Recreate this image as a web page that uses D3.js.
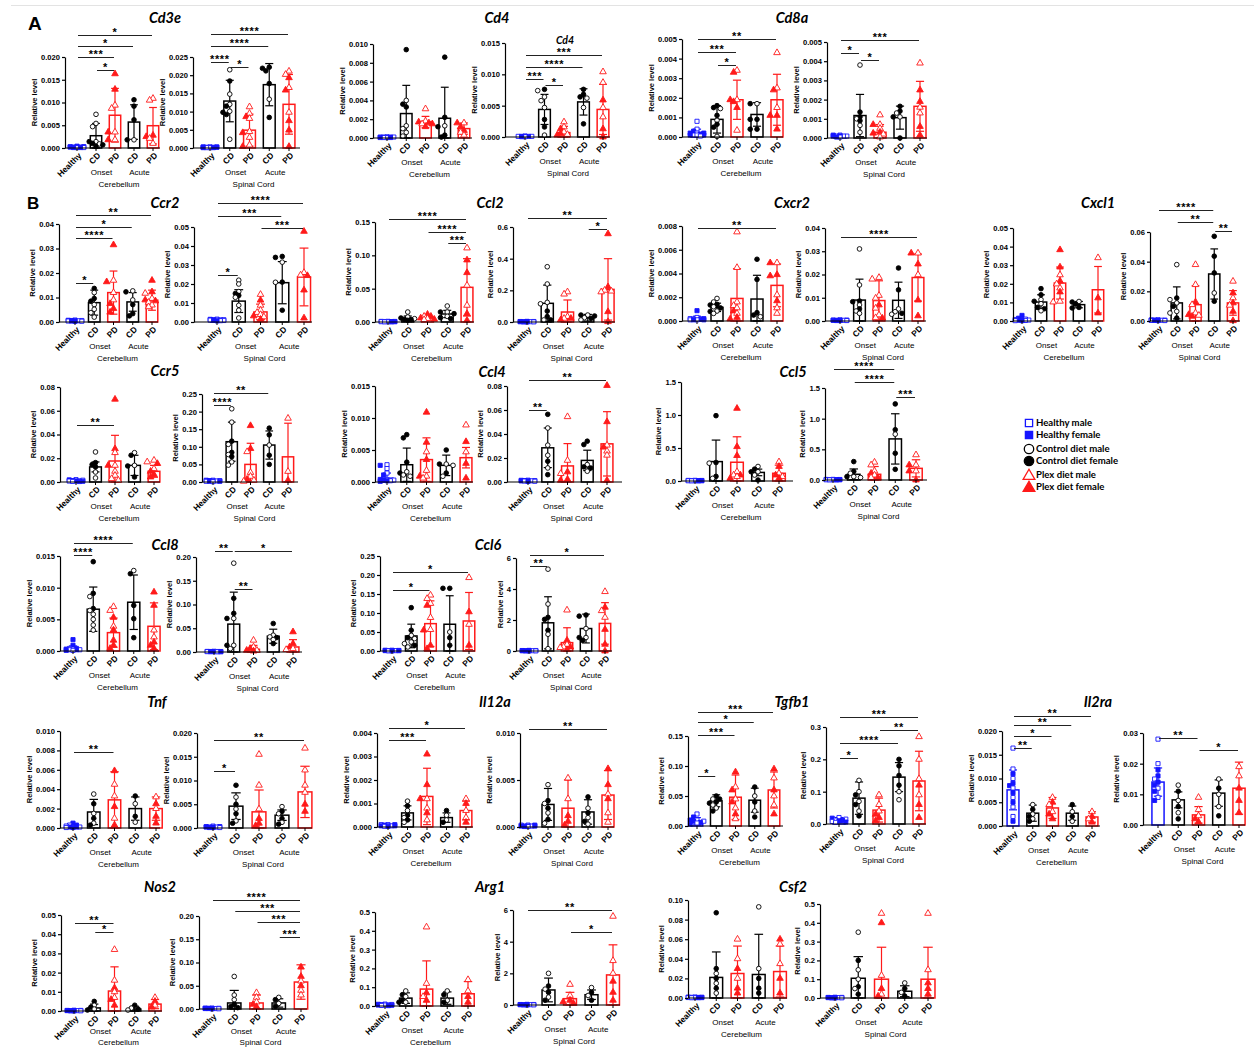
<!DOCTYPE html>
<html>
<head>
<meta charset="utf-8">
<script src="https://cdn.jsdelivr.net/npm/d3@7"></script>
<style>
  body { margin: 0; background: #fff; }
  svg { display: block; font-family: 'Liberation Sans', Arial, sans-serif; }
  .yaxis text { font-size: 7.6px; font-weight: bold; fill: #000; }
  .yaxis path, .yaxis line { stroke: #000; stroke-width: 1.2; }
  .ylab { font-size: 7.5px; font-weight: bold; }
  .xlab { font-size: 8.4px; font-weight: bold; }
  .stage, .region { font-size: 8px; }
  .gene { font-family: Lato, 'Liberation Sans', sans-serif; font-size: 14.5px; font-weight: bold; font-style: italic; }
  .sig { font-size: 11px; font-weight: bold; letter-spacing: 0.6px; }
  .legend { font-family: Lato, 'Liberation Sans', sans-serif; font-size: 9.6px; font-weight: bold; }
</style>
</head>
<body>
<svg width="1254" height="1047"></svg>
<script>
'use strict';
// groups along the x axis of every panel
const groups = ['Healthy', 'CD', 'PD', 'CD', 'PD'];
const stages = ['Onset', 'Acute'];
const tissues = ['Cerebellum', 'Spinal Cord'];
const genes = ['Cd3e', 'Cd4', 'Cd8a', 'Ccr2', 'Ccl2', 'Cxcr2', 'Cxcl1', 'Ccr5', 'Ccl4', 'Ccl5',
  'Ccl8', 'Ccl6', 'Tnf', 'Il12a', 'Tgfb1', 'Il2ra', 'Nos2', 'Arg1', 'Csf2'];
const legendLabels = ['Healthy male', 'Healthy female', 'Control diet male', 'Control diet female',
  'Plex diet male', 'Plex diet female'];

// panel i: gene floor(i/2), tissue i%2
const yMax = [0.020, 0.025, 0.010, 0.015, 0.005, 0.005, 0.04, 0.05, 0.15, 0.6, 0.008, 0.04, 0.05, 0.06,
  0.08, 0.25, 0.015, 0.08, 1.5, 1.5, 0.015, 0.20, 0.25, 6, 0.010, 0.020, 0.004, 0.010, 0.15, 0.3,
  0.020, 0.03, 0.05, 0.20, 0.5, 6, 0.10, 0.5];
const yStep = [0.005, 0.005, 0.002, 0.005, 0.001, 0.001, 0.01, 0.01, 0.05, 0.2, 0.002, 0.01, 0.01, 0.02,
  0.02, 0.05, 0.005, 0.02, 0.5, 0.5, 0.005, 0.05, 0.05, 2, 0.002, 0.005, 0.001, 0.005, 0.05, 0.1,
  0.005, 0.01, 0.01, 0.05, 0.1, 2, 0.02, 0.1];

const means = [
  [0.0002, 0.0027, 0.0072, 0.0057, 0.0049], [0.0002, 0.0129, 0.0049, 0.0174, 0.0120],
  [0.00005, 0.0026, 0.0017, 0.0021, 0.0010], [0.0001, 0.0044, 0.0007, 0.0056, 0.0044],
  [0.0002, 0.0009, 0.0019, 0.00115, 0.0019], [0.0001, 0.00117, 0.0003, 0.00106, 0.00165],
  [0.0005, 0.0079, 0.012, 0.0082, 0.0089], [0.001, 0.011, 0.0053, 0.0207, 0.0237],
  [0.0005, 0.005, 0.006, 0.012, 0.052], [0.002, 0.118, 0.063, 0.027, 0.206],
  [0.00017, 0.00115, 0.0019, 0.00185, 0.003], [0.0003, 0.009, 0.0088, 0.0089, 0.0187],
  [0.0005, 0.0102, 0.0204, 0.0088, 0.0168], [0.0005, 0.0122, 0.011, 0.0317, 0.0122],
  [0.001, 0.0127, 0.0177, 0.014, 0.009], [0.003, 0.1145, 0.05, 0.105, 0.0715],
  [0.0006, 0.0027, 0.0035, 0.0026, 0.0038], [0.001, 0.0285, 0.0134, 0.018, 0.0318],
  [0.005, 0.294, 0.284, 0.13, 0.117], [0.005, 0.093, 0.093, 0.67, 0.19],
  [0.0003, 0.0066, 0.0029, 0.0077, 0.0039], [0.001, 0.0587, 0.0057, 0.0332, 0.0106],
  [0.001, 0.0396, 0.072, 0.0704, 0.079], [0.02, 1.82, 0.54, 1.45, 1.78],
  [0.0001, 0.00165, 0.0029, 0.002, 0.002], [0.0002, 0.0046, 0.0034, 0.0027, 0.0076],
  [0.00005, 0.0006, 0.0013, 0.0004, 0.0007], [0.0001, 0.0024, 0.002, 0.0016, 0.0034],
  [0.008, 0.042, 0.048, 0.043, 0.06], [0.012, 0.08, 0.043, 0.145, 0.133],
  [0.0076, 0.0027, 0.0038, 0.0027, 0.0019], [0.014, 0.0082, 0.0033, 0.0104, 0.012],
  [0.0002, 0.0016, 0.0104, 0.001, 0.0036], [0.001, 0.013, 0.013, 0.013, 0.058],
  [0.005, 0.042, 0.09, 0.042, 0.065], [0.02, 0.95, 0.4, 0.65, 1.9],
  [0.0005, 0.021, 0.025, 0.024, 0.027], [0.002, 0.105, 0.1, 0.036, 0.1]
];
const sds = [
  [0.0002, 0.0027, 0.0059, 0.0038, 0.0040], [0.0002, 0.0057, 0.0044, 0.0058, 0.0082],
  [0.00005, 0.0030, 0.0006, 0.0033, 0.0006], [0.00005, 0.0024, 0.0010, 0.0021, 0.0040],
  [0.0002, 0.0007, 0.0010, 0.0006, 0.0013], [0.00005, 0.0011, 0.0004, 0.0006, 0.0013],
  [0.0004, 0.0051, 0.0088, 0.0038, 0.0041], [0.0006, 0.006, 0.0041, 0.0111, 0.0152],
  [0.0005, 0.004, 0.003, 0.0055, 0.043], [0.002, 0.115, 0.076, 0.021, 0.194],
  [0.00023, 0.00035, 0.0025, 0.002, 0.0018], [0.0002, 0.009, 0.0085, 0.0078, 0.0101],
  [0.0008, 0.0039, 0.0086, 0.0017, 0.0125], [0.0004, 0.0108, 0.0128, 0.0169, 0.0083],
  [0.0008, 0.0042, 0.0216, 0.0085, 0.005], [0.002, 0.0555, 0.06, 0.04, 0.0955],
  [0.0008, 0.0026, 0.0034, 0.0016, 0.0016], [0.0006, 0.0165, 0.0186, 0.0085, 0.0268],
  [0.005, 0.326, 0.386, 0.05, 0.123], [0.005, 0.087, 0.127, 0.41, 0.14],
  [0.0005, 0.0035, 0.0023, 0.0043, 0.0037], [0.0005, 0.0673, 0.0083, 0.0148, 0.0154],
  [0.001, 0.031, 0.06, 0.075, 0.075], [0.02, 1.68, 0.96, 0.93, 1.34],
  [0.0002, 0.0013, 0.0029, 0.0012, 0.0012], [0.0002, 0.0028, 0.0046, 0.0011, 0.0054],
  [0.00005, 0.0003, 0.0012, 0.0002, 0.0004], [0.0001, 0.0017, 0.003, 0.0013, 0.0026],
  [0.006, 0.01, 0.037, 0.02, 0.03], [0.008, 0.05, 0.037, 0.045, 0.092],
  [0.0042, 0.0017, 0.0022, 0.0015, 0.0011], [0.0046, 0.0026, 0.0027, 0.0043, 0.0085],
  [0.0002, 0.002, 0.0126, 0.0015, 0.0024], [0.001, 0.027, 0.017, 0.009, 0.037],
  [0.004, 0.028, 0.15, 0.033, 0.065], [0.02, 0.75, 0.4, 0.3, 1.9],
  [0.0005, 0.026, 0.028, 0.041, 0.026], [0.002, 0.115, 0.17, 0.029, 0.17]
];

// individual animals: open symbols (male)
const maleVals = [
  [[0.0001, 0.0002, 0.0003, 0.0002, 0.0001], [0.0074, 0.0054, 0.0047, 0.0014, 0.0009], [0.0087, 0.0094, 0.0035, 0.0018], [0.0018], [0.0109, 0.0105, 0.0021, 0.0010]],
  [[0.0001, 0.0002, 0.0003, 0.0001, 0.0002, 0.0002], [0.0215, 0.0148, 0.0120, 0.0101, 0.0024], [0.0113, 0.0095, 0.0081, 0.0045, 0.0029, 0.0008], [0.0134], [0.0211, 0.0202, 0.0166, 0.0098]],
  [[0.0001, 0.00005, 0.0001, 0.00005, 0.0001], [0.0040, 0.0013, 0.0010, 0.0006, 0.0002], [0.0031, 0.0018, 0.0015], [0.0013], [0.0016, 0.0006, 0.0003]],
  [[0.0001, 0.0001, 0.00005, 0.0001, 0.0001], [0.0074, 0.0064, 0.0058, 0.0047, 0.0003], [0.0024, 0.0016, 0.0008, 0.0004], [0.0047, 0.0062], [0.0104, 0.0087, 0.0047, 0.0032]],
  [[0.0008, 0.0004, 0.0002, 0.0001, 0.0001, 0.00005], [0.00145, 0.00085, 0.00003], [0.0034, 0.0019, 0.00034], [0.0017], [0.0043, 0.0025, 0.0015]],
  [[0.00015, 0.0001, 0.0001, 0.00005, 0.0001], [0.0038, 0.0010, 0.00066, 0.0003], [0.0012, 0.0007, 0.0005, 0.0002, 0.00005], [0.0011, 0.0013], [0.0039, 0.0013, 0.0016]],
  [[0.0005, 0.0008, 0.0003, 0.0006, 0.0004], [0.012, 0.0071, 0.0052, 0.0038, 0.002], [0.017, 0.012, 0.009], [0.0127, 0.009], [0.0117, 0.0096, 0.008, 0.0069, 0.0062]],
  [[0.001, 0.0015, 0.0008, 0.0012, 0.001, 0.0007], [0.022, 0.020, 0.016, 0.013, 0.0088, 0.0062, 0.0021], [0.0145, 0.0088, 0.0062, 0.005, 0.0039, 0.0027], [0.0315, 0.0209], [0.026, 0.0247]],
  [[0.0005, 0.001, 0.0003, 0.0008, 0.0005], [0.015, 0.0075, 0.005], [0.0085, 0.005, 0.0035], [0.024, 0.015, 0.0085], [0.111, 0.055, 0.025]],
  [[0.002, 0.003, 0.001, 0.002, 0.004], [0.349, 0.24, 0.124, 0.115, 0.013], [0.19, 0.176, 0.034, 0.023], [0.044, 0.027, 0.013], [0.2, 0.195, 0.19]],
  [[0.0003, 0.0002, 0.0001, 0.00015, 0.0001], [0.0019, 0.0016, 0.0012, 0.00084, 0.00064], [0.0075, 0.0045, 0.0016, 0.0013, 0.0011, 0.00064], [0.00036], [0.0049, 0.0022, 0.0011, 0.00064]],
  [[0.0003, 0.0004, 0.0002, 0.0003, 0.0005], [0.031, 0.0155, 0.0069, 0.0043, 0.0033], [0.0187, 0.018, 0.011, 0.0098, 0.0055, 0.0026, 0.0014], [0.0052, 0.004, 0.0029], [0.0292, 0.0199]],
  [[0.0005, 0.0003, 0.001, 0.0002, 0.0008], [0.0115, 0.0093, 0.0055], [0.0248, 0.0199, 0.0177, 0.0102, 0.0106], [0.0105], [0.034]],
  [[0.0005, 0.0008, 0.0003, 0.0006, 0.0004], [0.038, 0.0144, 0.0122, 0.0065, 0.0054], [0.038, 0.0245, 0.011, 0.0054, 0.0038], [0.0189], [0.0268, 0.0155, 0.0106]],
  [[0.001, 0.002, 0.0005, 0.0015, 0.0008], [0.0253, 0.0084, 0.0034], [0.0247, 0.014, 0.009, 0.0056, 0.0028, 0.0014], [0.0247, 0.014], [0.0183, 0.0169, 0.0112]],
  [[0.003, 0.005, 0.002, 0.004, 0.001], [0.208, 0.17, 0.107, 0.078, 0.057, 0.048], [0.086, 0.027, 0.016, 0.005, 0.002], [0.105], [0.181, 0.03]],
  [[0.0027, 0.0021, 0.0014, 0.0003, 0.0002, 0.0004], [0.0016, 0.0011, 0.0009], [0.0047, 0.0018, 0.0009, 0.0006], [0.0028, 0.0026, 0.0009], [0.0089, 0.0047]],
  [[0.001, 0.0015, 0.0008, 0.0012, 0.0006], [0.045, 0.0307, 0.0223, 0.0117], [0.0544, 0.018, 0.007], [0.0145, 0.009], [0.0307, 0.0257, 0.0223]],
  [[0.005, 0.01, 0.003, 0.008, 0.004], [0.27, 0.04], [0.14, 0.066, 0.09], [0.22, 0.09, 0.14], [0.29, 0.117, 0.066]],
  [[0.005, 0.01, 0.003, 0.008, 0.004], [0.11, 0.04, 0.055], [0.29, 0.245, 0.147, 0.08, 0.04], [0.747], [0.41, 0.245, 0.147]],
  [[0.0003, 0.0002, 0.0001, 0.0004, 0.0002], [0.0086, 0.0064, 0.0058, 0.005, 0.0041, 0.0033], [0.007, 0.0064, 0.0039], [0.0127], [0.0033, 0.0022]],
  [[0.001, 0.0015, 0.0005, 0.001, 0.0008], [0.187, 0.0707, 0.0141, 0.007], [0.0247, 0.0106, 0.0035], [0.0318, 0.0354, 0.026], [0.007, 0.005]],
  [[0.001, 0.002, 0.0005, 0.0015, 0.001], [0.041, 0.0326, 0.0238, 0.0194, 0.0106], [0.147, 0.138, 0.125, 0.088, 0.0563], [0.05], [0.193, 0.07]],
  [[0.02, 0.03, 0.01, 0.02, 0.04], [5.28, 3.03, 1.08, 0.15], [2.64, 0.41, 0.22, 0.26], [1.45, 0.87], [3.83, 2.6, 2.17]],
  [[0.0001, 0.0002, 0.00005, 0.0001, 0.0003], [0.0035, 0.0015, 0.0005], [0.0045, 0.0033, 0.001], [0.0025, 0.0006], [0.0032, 0.002]],
  [[0.0002, 0.0003, 0.0001, 0.0002, 0.0004], [0.0065, 0.004, 0.0015], [0.0155, 0.009, 0.004], [0.0045, 0.003, 0.0012], [0.0168, 0.0122, 0.009, 0.0075]],
  [[0.00005, 0.0001, 0.00003, 0.00005, 0.0001], [0.0011, 0.0007, 0.0004, 0.0002], [0.0012, 0.0008, 0.0003], [0.0005, 0.0003], [0.0012, 0.0007, 0.0004]],
  [[0.0001, 0.0002, 0.00005, 0.0001, 0.0002], [0.0045, 0.0025, 0.0015, 0.0004], [0.0052, 0.003], [0.002, 0.001, 0.0003], [0.0035, 0.0015, 0.0005]],
  [[0.02, 0.01, 0.005, 0.008], [0.045, 0.035, 0.03], [0.065, 0.045, 0.03, 0.012], [0.05, 0.025], [0.08, 0.05, 0.035]],
  [[0.02, 0.012, 0.008, 0.015, 0.005], [0.135, 0.1, 0.07, 0.04], [0.09, 0.06, 0.04], [0.1, 0.075], [0.27, 0.2, 0.14, 0.09]],
  [[0.0164, 0.012, 0.01, 0.008, 0.006, 0.004, 0.002], [0.0045, 0.0025, 0.0015], [0.006, 0.0045, 0.003], [0.003, 0.001], [0.003, 0.0015]],
  [[0.028, 0.02, 0.015, 0.012, 0.009], [0.013, 0.008, 0.004], [0.009, 0.005, 0.003], [0.015, 0.01, 0.006], [0.019, 0.016]],
  [[0.0002, 0.0003, 0.0001, 0.0002, 0.0004], [0.003, 0.001], [0.032, 0.016, 0.01, 0.007], [0.0015, 0.0005], [0.007, 0.003]],
  [[0.001, 0.002, 0.0005, 0.001, 0.0015], [0.07, 0.03, 0.02], [0.035, 0.025, 0.015], [0.025, 0.012], [0.06, 0.04, 0.03]],
  [[0.005, 0.008, 0.003, 0.006, 0.01], [0.08, 0.05, 0.02], [0.42, 0.12, 0.05], [0.08, 0.03], [0.14, 0.08]],
  [[0.02, 0.03, 0.01, 0.02, 0.04], [2.0, 1.0, 0.5], [1.3, 0.6], [1.1, 0.6], [5.6, 2.8, 2.0]],
  [[0.0005, 0.001, 0.0003, 0.0008, 0.0005], [0.025, 0.015, 0.005], [0.06, 0.04, 0.02], [0.093, 0.03], [0.055, 0.035]],
  [[0.002, 0.003, 0.001, 0.002, 0.004], [0.35, 0.15, 0.1, 0.05], [0.45, 0.12, 0.02], [0.08, 0.03], [0.45, 0.15]]
];
// filled symbols (female)
const femaleVals = [
  [[0.0001, 0.0002, 0.0004, 0.0001, 0.0003, 0.0002], [0.0014, 0.0010, 0.0007, 0.0003], [0.0163, 0.0129, 0.0035, 0.0018], [0.0106, 0.0092, 0.0062, 0.0018], [0.0028, 0.0025]],
  [[0.0001, 0.0002, 0.0003, 0.0001, 0.0002, 0.0003], [0.0184, 0.0115, 0.0098, 0.0092], [0.0086, 0.0042, 0.0004], [0.0222, 0.0219, 0.0177, 0.0084, 0.0212], [0.0193, 0.0159, 0.0075, 0.0049, 0.0004]],
  [[0.00005, 0.0001, 0.00005, 0.0001, 0.0001], [0.0094, 0.0036, 0.0033], [0.0016, 0.0015, 0.0017, 0.0012], [0.0086, 0.0022, 0.0012, 0.0003, 0.0001], [0.0016, 0.0012, 0.0008]],
  [[0.0001, 0.00005, 0.0001, 0.0001, 0.0001], [0.0076, 0.0028, 0.0016], [0.0013, 0.0003, 0.0005], [0.0076, 0.0068, 0.0064, 0.0021], [0.0059, 0.0013, 0.0000]],
  [[0.0003, 0.0002, 0.0001, 0.0001, 0.00015, 0.0002], [0.0016, 0.0015, 0.0011, 0.00065, 0.0005], [0.0033, 0.0019, 0.0018, 0.0015], [0.0017, 0.0009, 0.0004, 0.0004, 0.0009], [0.0024, 0.0011, 0.0004, 0.0011]],
  [[0.0001, 0.00015, 0.0001, 0.00005, 0.0001], [0.00135, 0.0011, 0.0009], [0.0007, 0.0003, 0.00025], [0.00165, 0.0014, 0.0011, 0.0], [0.0025, 0.0019, 0.0006, 0.00015]],
  [[0.0004, 0.0007, 0.0005, 0.0003, 0.0006], [0.0137, 0.0096, 0.0085], [0.0315, 0.0164, 0.0075, 0.0055, 0.004], [0.0123, 0.0071, 0.0034, 0.0025], [0.017, 0.0123, 0.0086, 0.009]],
  [[0.0012, 0.0009, 0.0014, 0.0011, 0.0006], [0.015, 0.014], [0.0115, 0.0032, 0.0014], [0.0345, 0.034, 0.021, 0.0062], [0.0477, 0.0244, 0.0168, 0.0021]],
  [[0.0004, 0.0007, 0.0006, 0.0003, 0.0009], [0.006, 0.0035, 0.0025, 0.004], [0.0115, 0.0085, 0.006, 0.004], [0.015, 0.0125, 0.0065, 0.005], [0.093, 0.074, 0.0125, 0.0025]],
  [[0.002, 0.001, 0.003, 0.002, 0.001], [0.069, 0.034, 0.013], [0.023, 0.013], [0.044, 0.038, 0.023], [0.557, 0.222, 0.065, 0.002]],
  [[0.00087, 0.0002, 0.0001, 0.00015, 0.0001], [0.0014, 0.00135, 0.0011, 0.0008], [0.00084, 0.0003, 0.00017], [0.0052, 0.0035, 0.0007, 0.0005], [0.0049, 0.0038, 0.0039, 0.0017]],
  [[0.0002, 0.0003, 0.0004, 0.0003, 0.0002], [0.0083, 0.0086, 0.0052], [0.0069, 0.0012], [0.0228, 0.0134, 0.0033], [0.0292, 0.0245, 0.009, 0.0022]],
  [[0.003, 0.0006, 0.0004, 0.0015, 0.0002], [0.0174, 0.0141, 0.0106, 0.0073, 0.0066], [0.0383, 0.029, 0.0156, 0.0215], [0.0102, 0.0091, 0.0073, 0.007], [0.0124, 0.0043]],
  [[0.0004, 0.0007, 0.0006, 0.0003, 0.0005], [0.0155, 0.0099, 0.002], [0.0128, 0.0043, 0.0032], [0.0571, 0.0437, 0.0324, 0.0133], [0.0189, 0.0122, 0.0065, 0.0002]],
  [[0.0012, 0.0006, 0.0018, 0.0009, 0.0004], [0.0163, 0.0146, 0.0127], [0.0697, 0.028, 0.014], [0.0225, 0.0135, 0.0042], [0.0155, 0.009, 0.0062, 0.0042]],
  [[0.002, 0.004, 0.003, 0.005, 0.002], [0.116, 0.084, 0.072], [0.16, 0.095, 0.0076], [0.153, 0.134, 0.076, 0.05], [0.005]],
  [[0.0026, 0.0011, 0.0003, 0.0002, 0.0004, 0.0001], [0.0074, 0.0069, 0.0031, 0.0014], [0.0109, 0.0062, 0.0035, 0.0009], [0.005, 0.0028, 0.0014], [0.0063, 0.0029, 0.0006]],
  [[0.0012, 0.0009, 0.0014, 0.0005, 0.001], [0.0564, 0.0173, 0.0061], [0.0084, 0.0022, 0.0014], [0.034, 0.0312, 0.0117, 0.0126], [0.0804, 0.0502, 0.029, 0.0014]],
  [[0.004, 0.007, 0.006, 0.002, 0.009], [0.99, 0.28, 0.07], [1.1, 0.52, 0.385, 0.09, 0.04], [0.18, 0.14, 0.015], [0.22, 0.09, 0.04]],
  [[0.004, 0.007, 0.006, 0.002, 0.009], [0.3, 0.14, 0.055], [0.11, 0.04], [1.24, 0.82, 0.436, 0.174], [0.245, 0.147, 0.0]],
  [[0.0018, 0.0009, 0.0003, 0.0002, 0.0004, 0.0001], [0.0141, 0.0091, 0.0067], [0.0053, 0.0033, 0.0017, 0.0009, 0.0004], [0.0122, 0.0072, 0.0051, 0.0021], [0.0093, 0.0072, 0.0014, 0.0009, 0.0004]],
  [[0.0012, 0.0007, 0.001, 0.0005, 0.0009], [0.113, 0.0813, 0.0707, 0.0141], [0.007, 0.0035, 0.002], [0.06, 0.0304, 0.0177], [0.0424, 0.0177, 0.0106]],
  [[0.0012, 0.0008, 0.002, 0.0005, 0.001], [0.114, 0.0546, 0.035, 0.015], [0.12, 0.055, 0.015, 0.006], [0.165, 0.165, 0.035, 0.015], [0.103, 0.015]],
  [[0.01, 0.03, 0.02, 0.01, 0.02], [2.04, 2.17, 1.34], [0.69, 0.26, 0.09], [2.32, 2.25, 0.87, 0.69], [2.82, 1.39, 0.43, 0.0]],
  [[0.0005, 0.0003, 0.0001, 0.00005, 0.0001], [0.0025, 0.001, 0.0003], [0.0059, 0.0022, 0.0003], [0.0033, 0.0012], [0.0025, 0.0012, 0.0005]],
  [[0.0001, 0.0002, 0.0003, 0.0002, 0.0001], [0.009, 0.005, 0.003, 0.001], [0.002, 0.001, 0.0005], [0.0035, 0.002, 0.0008], [0.005, 0.0035]],
  [[0.00003, 0.00005, 0.0001, 0.00005, 0.00008], [0.0009, 0.0005, 0.0003], [0.0031, 0.0018, 0.0012, 0.0006], [0.0007, 0.0002], [0.001, 0.0002]],
  [[0.00005, 0.0001, 0.0002, 0.0001, 0.0001], [0.0028, 0.002, 0.0008], [0.0012, 0.0006, 0.0002], [0.0032, 0.0015, 0.0006], [0.0062, 0.0045, 0.003]],
  [[0.015, 0.008, 0.003, 0.006, 0.01], [0.05, 0.04, 0.045, 0.038, 0.025], [0.09, 0.06, 0.04, 0.02], [0.065, 0.04, 0.015], [0.095, 0.06, 0.02]],
  [[0.018, 0.01, 0.006, 0.012], [0.09, 0.06, 0.025], [0.03, 0.02, 0.01], [0.2, 0.18, 0.15, 0.12], [0.12, 0.06, 0.02]],
  [[0.011, 0.009, 0.007, 0.005, 0.001, 0.0085], [0.0035, 0.002, 0.001], [0.005, 0.0025, 0.0015], [0.0045, 0.002], [0.002, 0.0008]],
  [[0.018, 0.016, 0.013, 0.011, 0.008, 0.014], [0.011, 0.006, 0.002], [0.002, 0.001], [0.012, 0.003], [0.012, 0.008, 0.004]],
  [[0.0001, 0.0002, 0.0003, 0.0002, 0.0001], [0.005, 0.002, 0.0005], [0.012, 0.006, 0.003], [0.003, 0.001], [0.005, 0.002]],
  [[0.001, 0.0005, 0.0015, 0.001, 0.002], [0.01, 0.005, 0.003], [0.01, 0.005], [0.02, 0.006], [0.09, 0.07, 0.05]],
  [[0.004, 0.007, 0.002, 0.009, 0.005], [0.06, 0.03, 0.02], [0.07, 0.03], [0.06, 0.02], [0.05, 0.02]],
  [[0.01, 0.03, 0.02, 0.01, 0.02], [1.2, 0.8, 0.3], [0.3, 0.2, 0.1], [0.8, 0.3], [1.5, 0.8, 0.3]],
  [[0.0004, 0.0007, 0.0006, 0.0003, 0.0009], [0.087, 0.03, 0.02, 0.01], [0.03, 0.01, 0.005], [0.02, 0.01, 0.005], [0.06, 0.02, 0.005]],
  [[0.002, 0.001, 0.003, 0.002, 0.001], [0.2, 0.06, 0.02], [0.4, 0.05, 0.01], [0.05, 0.01], [0.08, 0.05, 0.02]]
];

// significance brackets: [from group, to group, label, height in axis units]
const sigBars = [
  [[0, 4, '*', 0.0248], [0, 3, '*', 0.0224], [0, 2, '***', 0.0200], [1, 2, '*', 0.0172]],
  [[0, 4, '****', 0.0314], [0, 3, '****', 0.0281], [0, 1, '****', 0.0237], [1, 2, '*', 0.0222]],
  [],
  [[0, 4, '***', 0.0131], [0, 3, '****', 0.0111], [0, 1, '***', 0.0092], [1, 2, '*', 0.0083]],
  [[0, 4, '**', 0.0050], [0, 2, '***', 0.00433], [1, 2, '*', 0.00368]],
  [[0, 4, '***', 0.0051], [0, 1, '*', 0.00444], [1, 2, '*', 0.00405]],
  [[0, 4, '**', 0.0436], [0, 3, '*', 0.0388], [0, 2, '****', 0.0343], [0, 1, '*', 0.016]],
  [[0, 4, '****', 0.0627], [0, 3, '***', 0.056], [2, 4, '***', 0.0495], [0, 1, '*', 0.025]],
  [[0, 4, '****', 0.154], [2, 4, '****', 0.135], [3, 4, '***', 0.118]],
  [[0, 4, '**', 0.66], [3, 4, '*', 0.586]],
  [[0, 4, '**', 0.0078]],
  [[0, 4, '****', 0.036]],
  [],
  [[0, 3, '****', 0.075], [1, 3, '**', 0.0668], [3, 4, '**', 0.0605]],
  [[0, 2, '**', 0.0478]],
  [[0, 3, '**', 0.252], [0, 1, '****', 0.219]],
  [],
  [[0, 4, '**', 0.085], [0, 1, '**', 0.06]],
  [],
  [[0, 3, '****', 1.81], [1, 3, '****', 1.6], [3, 4, '***', 1.35]],
  [[0, 3, '****', 0.0171], [0, 1, '****', 0.0152]],
  [[0, 1, '**', 0.212], [1, 4, '*', 0.212], [1, 2, '**', 0.132]],
  [[0, 4, '*', 0.2085], [0, 2, '*', 0.16]],
  [[0, 4, '*', 6.2], [0, 1, '**', 5.5]],
  [[0, 2, '**', 0.0078]],
  [[0, 4, '**', 0.0185], [0, 1, '*', 0.012]],
  [[0, 4, '*', 0.0042], [0, 2, '***', 0.0037]],
  [[0, 4, '**', 0.0104]],
  [[0, 4, '***', 0.19], [0, 3, '*', 0.173], [0, 2, '***', 0.152], [0, 1, '*', 0.083]],
  [[0, 4, '***', 0.33], [2, 4, '**', 0.29], [0, 3, '****', 0.25], [0, 1, '*', 0.205]],
  [[0, 4, '**', 0.0232], [0, 3, '**', 0.0213], [0, 2, '*', 0.019], [0, 1, '**', 0.0164]],
  [[0, 2, '**', 0.0284], [2, 4, '*', 0.0245]],
  [[0, 2, '**', 0.046], [1, 2, '*', 0.041]],
  [[0, 4, '****', 0.234], [1, 4, '***', 0.21], [2, 4, '***', 0.187], [3, 4, '***', 0.155]],
  [],
  [[0, 4, '**', 6.0], [2, 4, '*', 4.6]],
  [],
  []
];

// layout: [axis x, first bar x, last bar x, axis end x, top tick y, zero y]
var panelBox = [
  [65, 77, 153, 160, 57, 148], [193, 210, 289, 300, 57, 148],
  [373, 387, 464, 472, 44, 138], [505, 525, 603, 610, 43, 137],
  [682, 697, 777, 783, 39, 137], [827, 840, 920, 927, 42, 138],
  [59, 75, 152, 158, 224, 322], [194, 217, 304, 312, 227, 322],
  [375, 388, 467, 474, 222, 322], [513, 527, 608, 615, 227, 322],
  [682, 697, 777, 783, 226, 321], [825, 840, 918, 926, 228, 321],
  [1013, 1022, 1098, 1103, 228, 321], [1150, 1158, 1233, 1240, 232, 321],
  [60, 76, 154, 160, 387, 482], [202, 213, 288, 298, 394, 482],
  [375, 387, 466, 473, 386, 482], [507, 528, 607, 622, 386, 482],
  [681, 695, 779, 793, 382, 481], [825, 833, 916, 927, 388, 480],
  [60, 73, 154, 159, 556, 651], [196, 214, 293, 302, 557, 652],
  [380, 392, 469, 475, 556, 651], [516, 529, 605, 612, 558, 651],
  [60, 73, 156, 160, 731, 828], [197, 213, 305, 312, 733, 828],
  [377, 388, 466, 473, 733, 827], [520, 528, 608, 614, 733, 827],
  [688, 697, 774, 783, 736, 826], [826, 839, 919, 926, 727, 824],
  [1002, 1013, 1092, 1100, 731, 826], [1143, 1158, 1239, 1245, 733, 825],
  [61, 74, 155, 162, 915, 1011], [199, 212, 301, 307, 916, 1009],
  [375, 385, 468, 475, 912, 1006], [513, 527, 613, 620, 910, 1005],
  [688, 695, 780, 787, 900, 998], [820, 835, 928, 934, 904, 998]
];
var titleXY = [[165, 18], [497, 18], [792, 18], [165, 203], [490, 203], [792, 203], [1098, 203],
  [165, 371], [492, 372], [793, 372], [165, 545], [488, 545], [157, 702], [495, 702], [792, 702],
  [1098, 702], [160, 887], [490, 887], [793, 887]];

var BLUE = '#1515ff', RED = '#ff1a1a';
var colors = [BLUE, '#000', RED, '#000', RED];
var symbols = [d3.symbolSquare, d3.symbolCircle, d3.symbolTriangle, d3.symbolCircle, d3.symbolTriangle];
var symSize = [17, 17, 19, 17, 19];

var svg = d3.select('svg');
svg.append('rect').attr('width', 1254).attr('height', 1047).attr('fill', '#fff');
svg.append('line')
  .attr('x1', 11).attr('x2', 1254).attr('y1', 5.5).attr('y2', 5.5)
  .attr('stroke', '#e3e3e3');

svg.append('text').attr('x', 28).attr('y', 30)
  .attr('font-size', 19).attr('font-weight', 'bold').text('A');
svg.append('text').attr('x', 27).attr('y', 209)
  .attr('font-size', 17).attr('font-weight', 'bold').text('B');

genes.forEach((g, i) => {
  svg.append('text').attr('class', 'gene')
    .attr('x', titleXY[i][0]).attr('y', titleXY[i][1] + 5)
    .attr('text-anchor', 'middle').text(g);
});
// second small title over the Cd4 spinal cord panel
svg.append('text').attr('class', 'gene')
  .style('font-size', '10.5px')
  .attr('x', 565).attr('y', 44).attr('text-anchor', 'middle').text(genes[1]);

// simple beeswarm: spread points that would overlap
function swarm(pts, y) {
  var placed = [];
  var offs = [0, -3.4, 3.4, -6.8, 6.8];
  pts.slice().sort((a, b) => b.v - a.v).forEach(p => {
    var py = y(p.v);
    var best = 0, bestD = -1;
    for (var o of offs) {
      var d = d3.min(placed, q => Math.hypot(q.dx - o, q.py - py));
      if (d === undefined) d = Infinity;
      if (d >= 3.8) { best = o; break; }
      if (d > bestD) { bestD = d; best = o; }
    }
    placed.push({v: p.v, filled: p.filled, py: py, dx: best});
  });
  return placed;
}

function drawPanel(i) {
  var [axisX, x0, x4, endX, yTop, y0] = panelBox[i];
  var x = d3.scalePoint().domain(d3.range(5)).range([x0, x4]);
  var y = d3.scaleLinear().domain([0, yMax[i]]).range([y0, yTop]);
  var bw = x.step() * 0.6;
  var g = svg.append('g').attr('class', 'panel');

  var bars = g.selectAll('g.bar').data(d3.range(5)).enter().append('g')
    .attr('class', 'bar');
  bars.append('rect')
    .attr('x', k => x(k) - bw / 2)
    .attr('y', k => y(means[i][k]))
    .attr('width', bw)
    .attr('height', k => y0 - y(means[i][k]))
    .attr('fill', '#fff')
    .attr('stroke', k => colors[k])
    .attr('stroke-width', 1.5);

  // error bars (mean ± SD)
  bars.append('line')
    .attr('x1', k => x(k)).attr('x2', k => x(k))
    .attr('y1', k => y(Math.max(0, means[i][k] - sds[i][k])))
    .attr('y2', k => y(means[i][k] + sds[i][k]))
    .attr('stroke', k => colors[k]).attr('stroke-width', 1.2);
  [1, -1].forEach(s => {
    bars.append('line')
      .attr('x1', k => x(k) - bw * 0.34).attr('x2', k => x(k) + bw * 0.34)
      .attr('y1', k => y(Math.max(0, means[i][k] + s * sds[i][k])))
      .attr('y2', k => y(Math.max(0, means[i][k] + s * sds[i][k])))
      .attr('stroke', k => colors[k]).attr('stroke-width', 1.2);
  });

  // individual points
  d3.range(5).forEach(k => {
    var pts = maleVals[i][k].map(v => ({v: v, filled: false}))
      .concat(femaleVals[i][k].map(v => ({v: v, filled: true})));
    g.append('g').selectAll('path').data(swarm(pts, y)).enter().append('path')
      .attr('d', d3.symbol().type(symbols[k]).size(symSize[k]))
      .attr('transform', p => `translate(${x(k) + p.dx},${p.py})`)
      .attr('fill', p => p.filled ? colors[k] : '#fff')
      .attr('stroke', colors[k])
      .attr('stroke-width', 0.9);
  });

  // axes
  var ticks = d3.range(0, yMax[i] + yStep[i] / 2, yStep[i]);
  var ya = g.append('g').attr('class', 'yaxis')
    .attr('transform', `translate(${axisX},0)`)
    .call(d3.axisLeft(y).tickValues(ticks)
      .tickFormat(d3.format(`.${d3.precisionFixed(yStep[i])}f`))
      .tickSize(3).tickSizeOuter(0).tickPadding(2))
    .attr('font-size', null).attr('font-family', null);
  var maxW = d3.max(ya.selectAll('text').nodes(), n => n.getComputedTextLength());

  g.append('line')
    .attr('x1', axisX).attr('x2', endX).attr('y1', y0).attr('y2', y0)
    .attr('stroke', '#000').attr('stroke-width', 1.2);
  g.selectAll('line.xtick').data(d3.range(5)).enter().append('line')
    .attr('class', 'xtick')
    .attr('x1', k => x(k)).attr('x2', k => x(k))
    .attr('y1', y0).attr('y2', y0 + 3)
    .attr('stroke', '#000').attr('stroke-width', 1);

  g.append('text').attr('class', 'ylab')
    .attr('transform', `translate(${axisX - maxW - 9},${(y0 + yTop) / 2}) rotate(-90)`)
    .attr('text-anchor', 'middle').text('Relative level');

  g.selectAll('text.xlab').data(d3.range(5)).enter().append('text')
    .attr('class', 'xlab')
    .attr('transform', k => `translate(${x(k) + 3},${y0 + 6}) rotate(-45)`)
    .attr('text-anchor', 'end').attr('dy', '0.35em')
    .text(k => groups[k]);

  // bottom row sits at the page edge: squeeze its labels to stay inside
  stages.forEach((s, j) => {
    g.append('text').attr('class', 'stage')
      .attr('x', (x(1 + 2 * j) + x(2 + 2 * j)) / 2 - 4).attr('y', Math.min(y0 + 27, 1034))
      .attr('text-anchor', 'middle').text(s);
  });
  g.append('text').attr('class', 'region')
    .attr('x', (x0 + x4) / 2 + 4).attr('y', Math.min(y0 + 39, 1045))
    .attr('text-anchor', 'middle').text(tissues[i % 2]);

  // significance brackets
  sigBars[i].forEach(([a, b, lab, h]) => {
    var py = Math.round(y(h)) + 0.5;
    g.append('line')
      .attr('x1', x(a) + 1).attr('x2', x(b) - 1).attr('y1', py).attr('y2', py)
      .attr('stroke', '#222').attr('stroke-width', 1);
    g.append('text').attr('class', 'sig')
      .attr('x', (x(a) + x(b)) / 2).attr('y', py)
      .attr('text-anchor', 'middle').text(lab);
  });
}

panelBox.forEach((b, i) => drawPanel(i));

// legend
var legendY = [423, 435, 449, 461, 475, 487];
var legendSym = [0, 0, 1, 1, 2, 2];
var legendSize = [52, 52, 70, 70, 60, 60];
legendLabels.forEach((lab, j) => {
  var k = legendSym[j];
  svg.append('path')
    .attr('d', d3.symbol().type(symbols[k]).size(legendSize[j]))
    .attr('transform', `translate(1029,${legendY[j] + (k === 2 ? 1 : 0)})`)
    .attr('fill', j % 2 ? colors[k] : '#fff')
    .attr('stroke', colors[k]).attr('stroke-width', 1.3);
  svg.append('text').attr('class', 'legend')
    .attr('x', 1036).attr('y', legendY[j]).attr('dy', '0.35em')
    .text(lab);
});
</script>
</body>
</html>
